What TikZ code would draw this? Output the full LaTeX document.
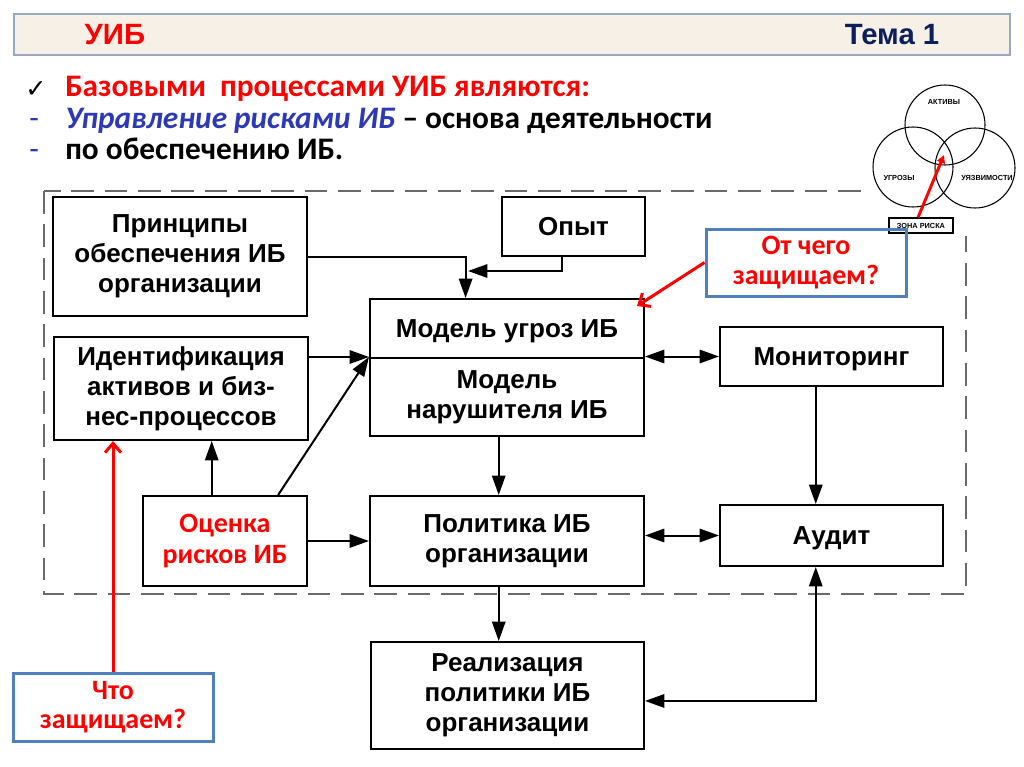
\documentclass[tikz,border=0pt]{standalone}
\usepackage{fontspec}
\setmainfont{Liberation Sans}
\newfontfamily\calfont{Carlito}
\newfontfamily\dvsfont{DejaVu Sans}
\usetikzlibrary{arrows.meta,calc}
\definecolor{hdrfill}{HTML}{F6F0E6}
\definecolor{hdrline}{HTML}{98A8BE}
\definecolor{navy}{HTML}{0B1F5C}
\definecolor{myred}{HTML}{FF0000}
\definecolor{myblue}{HTML}{2E3AB5}
\definecolor{boxblue}{HTML}{4F7FBC}
\definecolor{dashgray}{HTML}{6A6A6A}
\begin{document}
\begin{tikzpicture}[x=0.75pt,y=-0.75pt,
  wh/.style n args={2}{minimum width=#1*0.75pt, minimum height=#2*0.75pt},
  box/.style={draw=black, line width=1.5pt, inner sep=0pt, align=center,
    font=\fontsize{19.5}{22.5}\selectfont\bfseries},
  onebox/.style={draw=black, line width=1.5pt, inner sep=0pt,
    text height=14pt, text depth=0pt, font=\fontsize{19.5}{22.5}\selectfont\bfseries},
  redtext/.style={text=myred, font=\calfont\fontsize{21}{22}\selectfont\bfseries},
  bluebox/.style={draw=boxblue, line width=2.25pt, inner sep=0pt, align=center},
  arr/.style={line width=1.5pt, -{Triangle[length=14.5pt,width=10pt]}},
  darr/.style={line width=1.5pt, {Triangle[length=14.5pt,width=10pt]}-{Triangle[length=14.5pt,width=10pt]}},
  redarr/.style={draw=myred, line width=2.25pt, -{Straight Barb[length=7pt,width=12pt,line width=2.25pt]}},
  venn/.style={line width=0.8pt},
  vlabel/.style={font=\fontsize{5.5}{6}\selectfont\bfseries, inner sep=1pt},
  toptext/.style={anchor=base west, inner sep=0pt, font=\calfont\fontsize{23.5}{26}\selectfont\bfseries},
  dashmark/.style={anchor=base west, inner sep=0pt, text=myblue, font=\calfont\fontsize{23.5}{26}\selectfont},
]
\useasboundingbox (0,0) rectangle (1024,767);
\fill[white] (0,0) rectangle (1024,767);

% header
\node[fill=hdrfill, draw=hdrline, line width=1pt, inner sep=0pt, wh={996}{41}] (hdr) at (512,34.5) {};
\node[anchor=west, text=myred, font=\fontsize{22}{24}\selectfont\bfseries] (uib) at (80,35) {УИБ};
\node[anchor=east, text=navy, font=\fontsize{22}{24}\selectfont\bfseries] (tema) at (944,35) {Тема 1};

% top text
\node[anchor=base west, inner sep=0pt, font=\dvsfont\fontsize{19}{20}\selectfont] (chk) at (25,98) {✓};
\node[toptext, text=myred] (l1) at (65,97) {Базовыми\ \ процессами УИБ являются:};
\node[dashmark] (d2) at (29,128) {-};
\node[toptext] (l2) at (65,128) {\textcolor{myblue}{\itshape Управление рисками ИБ} – основа деятельности};
\node[dashmark] (d3) at (29,159) {-};
\node[toptext] (l3) at (65,159) {по обеспечению ИБ.};

% dashed frame
\draw[dashgray, line width=1.5pt, dash pattern=on 17pt off 8pt] (44,191) rectangle (966,594);

% venn
\fill[white] (866,76) rectangle (1022,236);
\draw[venn] (945,125) circle[radius=30pt];
\draw[venn] (913,167) circle[radius=30pt];
\draw[venn] (975,168) circle[radius=30pt];
\node[vlabel] (vact) at (944,102) {АКТИВЫ};
\node[vlabel] (vthr) at (899,178) {УГРОЗЫ};
\node[vlabel] (vvul) at (987,178) {УЯЗВИМОСТИ};
\node[draw=black, line width=0.8pt, inner sep=0pt, wh={64}{15}, font=\fontsize{5.5}{6}\selectfont\bfseries] (zona) at (921,225.5) {ЗОНА РИСКА};
\coordinate (vtip) at (944,155);
\draw[myred, line width=2.2pt, -{Triangle[length=6pt,width=6pt]}] ($(zona.north)+(-3,0)$) -- (vtip);

% boxes
\node[box, wh={254}{119}] (princ) at (180,256.5) {Принципы\\обеспечения ИБ\\организации};
\node[onebox, wh={143}{59}] (opyt) at (573.5,226.5) {Опыт};
\node[onebox, wh={274}{59}] (mthreat) at (507,328.5) {Модель угроз ИБ};
\node[box, wh={274}{78}] (mviol) at (507,397) {Модель\\нарушителя ИБ};
\node[box, wh={254}{103}] (ident) at (181,388.5) {Идентификация\\активов и биз-\\нес-процессов};
\node[box, wh={164}{90}, text=myred, font=\calfont\fontsize{21}{23}\selectfont\bfseries] (risk) at (225,541) {Оценка\\рисков ИБ};
\node[box, wh={274}{90}] (policy) at (507,541) {Политика ИБ\\организации};
\node[onebox, wh={223}{59}] (monit) at (831.5,356.5) {Мониторинг};
\node[onebox, wh={223}{61}] (audit) at (831.5,535.5) {Аудит};
\node[box, wh={273}{107}] (real) at (507.5,695.5) {Реализация\\политики ИБ\\организации};
\node[bluebox, wh={200}{67}, redtext] (otchego) at (806,262.5) {От чего\\защищаем?};
\node[bluebox, wh={200}{68}, redtext] (chto) at (113,707) {Что\\защищаем?};

% connectors
\coordinate (p1) at ($(mthreat.north west)!0.35!(mthreat.north east)$);
\draw[arr] (princ.east) -| (p1);
\coordinate (o1) at ($(opyt.south west)!0.42!(opyt.south east)$);
\coordinate (j2) at (468,271);
\draw[arr] (o1) |- (j2);
\draw[arr] (ident.east |- mviol.north west) -- (mviol.north west);
\coordinate (r1) at ($(risk.north west)!0.82!(risk.north east)$);
\draw[arr] (r1) -- (mviol.north west);
\coordinate (r2) at ($(risk.north west)!0.42!(risk.north east)$);
\draw[arr] (r2) -- (r2 |- ident.south);
\draw[arr] (risk.east) -- (risk.east -| policy.west);
\coordinate (m1) at ($(mviol.south west)!0.47!(mviol.south east)$);
\draw[arr] (m1) -- (m1 |- policy.north);
\draw[darr] (monit.west -| mviol.east) -- (monit.west);
\coordinate (a1) at ($(monit.south west)!0.43!(monit.south east)$);
\draw[arr] (a1) -- (a1 |- audit.north);
\draw[darr] (audit.west -| policy.east) -- (audit.west);
\draw[arr] (m1 |- policy.south) -- (m1 |- real.north);
\coordinate (re1) at ($(real.north east)!0.55!(real.south east)$);
\draw[darr] (a1 |- audit.south) |- (re1);

% red pointers
\coordinate (tipA) at ($(mthreat.north east)+(-8,8)$);
\draw[redarr] (otchego.west) -- (tipA);
\draw[redarr] (chto.north) -- (chto.north |- ident.south);
\end{tikzpicture}
\end{document}
